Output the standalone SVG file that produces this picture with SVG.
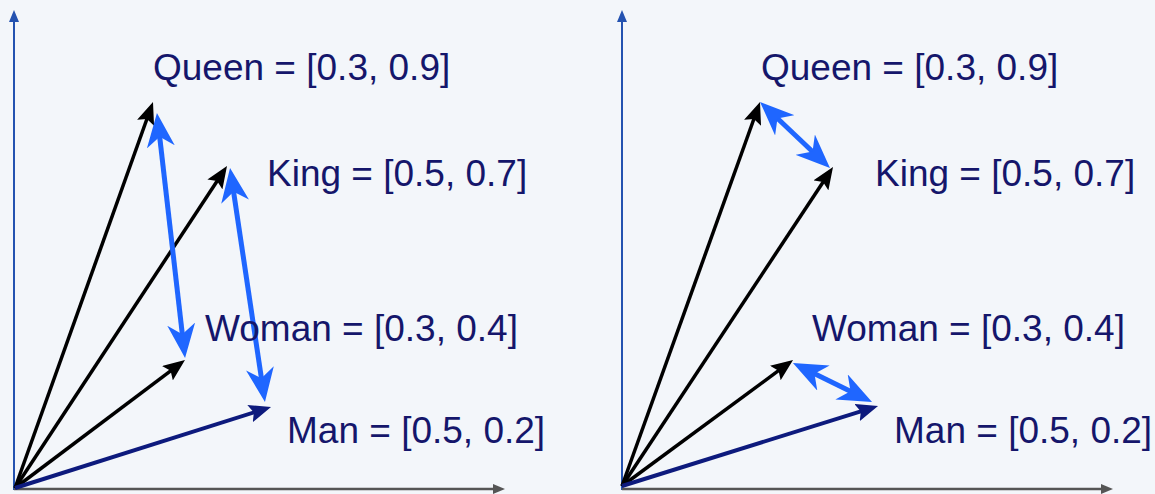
<svg xmlns="http://www.w3.org/2000/svg" width="1155" height="494" viewBox="0 0 1155 494">
<style>
.lbl{font-family:"Liberation Sans",Arial,sans-serif;font-size:37px;fill:#15166b}
.blk{stroke:#000;stroke-width:3.5;fill:none;marker-end:url(#hb)}
.man{stroke:#0d1a7d;stroke-width:4;fill:none;marker-end:url(#hn)}
.blu{stroke:#1f66ff;stroke-width:5;fill:none;marker-start:url(#hu);marker-end:url(#hu)}
.yax{stroke:#2452b0;stroke-width:2;fill:none;marker-end:url(#hy)}
.xax{stroke:#555;stroke-width:2.5;fill:none;marker-end:url(#hx)}
</style>
<defs>
<marker id="hb" viewBox="0 0 22 18" refX="14" refY="9" markerWidth="22" markerHeight="18" markerUnits="userSpaceOnUse" orient="auto"><path d="M0,0 L22,9 L0,18 L4,9 z" fill="#000"/></marker>
<marker id="hn" viewBox="0 0 22 18" refX="14" refY="9" markerWidth="22" markerHeight="18" markerUnits="userSpaceOnUse" orient="auto"><path d="M0,0 L22,9 L0,18 L4,9 z" fill="#0d1a7d"/></marker>
<marker id="hu" viewBox="0 0 34 28" refX="16" refY="14" markerWidth="34" markerHeight="28" markerUnits="userSpaceOnUse" orient="auto-start-reverse"><path d="M0,0 L34,14 L0,28 L10,14 z" fill="#1f66ff"/></marker>
<marker id="hy" viewBox="0 0 12 10" refX="4" refY="5" markerWidth="12" markerHeight="10" markerUnits="userSpaceOnUse" orient="auto"><path d="M0,0 L12,5 L0,10 z" fill="#2452b0"/></marker>
<marker id="hx" viewBox="0 0 12 10" refX="4" refY="5" markerWidth="12" markerHeight="10" markerUnits="userSpaceOnUse" orient="auto"><path d="M0,0 L12,5 L0,10 z" fill="#555"/></marker>
</defs>
<rect width="1155" height="494" fill="#f3f6fa"/>
<g id="connectors">
<line class="yax" x1="14" y1="490" x2="14" y2="18"/>
<line class="xax" x1="14" y1="489" x2="497" y2="489"/>
<line class="yax" x1="622" y1="490" x2="622" y2="18"/>
<line class="xax" x1="622" y1="489" x2="1105" y2="489"/>
<line class="blk" x1="15" y1="488" x2="150.3" y2="109.5"/>
<line class="blk" x1="15" y1="488" x2="222.6" y2="172.7"/>
<line class="blk" x1="15" y1="488" x2="178.6" y2="364.8"/>
<line class="man" x1="15" y1="488" x2="263.4" y2="409.4"/>
<line class="blu" x1="159" y1="130.9" x2="183" y2="340.1"/>
<line class="blu" x1="232.7" y1="185.8" x2="262.3" y2="384.2"/>
<line class="blk" x1="622" y1="486" x2="757.3" y2="109.5"/>
<line class="blk" x1="622" y1="486" x2="828.6" y2="173.7"/>
<line class="blk" x1="622" y1="486" x2="786.6" y2="364.7"/>
<line class="man" x1="622" y1="486" x2="870.4" y2="408.4"/>
<line class="blu" x1="773.1" y1="114.3" x2="816.9" y2="155.7"/>
<line class="blu" x1="809.1" y1="371" x2="855.9" y2="394"/>
</g>
<g id="queen-left"><text class="lbl" x="153" y="80">Queen = [0.3, 0.9]</text></g>
<g id="king-left"><text class="lbl" x="267" y="186">King = [0.5, 0.7]</text></g>
<g id="woman-left"><text class="lbl" x="205" y="341">Woman = [0.3, 0.4]</text></g>
<g id="man-left"><text class="lbl" x="287" y="443">Man = [0.5, 0.2]</text></g>
<g id="queen-right"><text class="lbl" x="761" y="80">Queen = [0.3, 0.9]</text></g>
<g id="king-right"><text class="lbl" x="875" y="186">King = [0.5, 0.7]</text></g>
<g id="woman-right"><text class="lbl" x="812" y="341">Woman = [0.3, 0.4]</text></g>
<g id="man-right"><text class="lbl" x="894" y="443">Man = [0.5, 0.2]</text></g>
</svg>
